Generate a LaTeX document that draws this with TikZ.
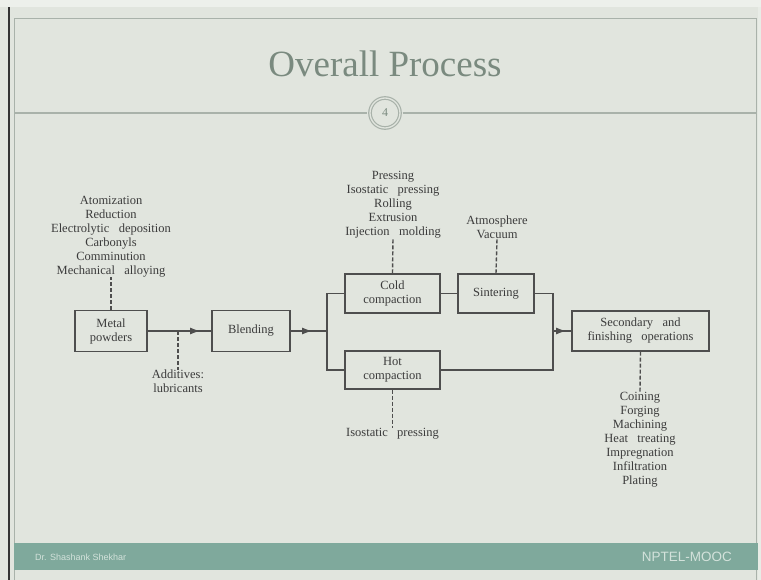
\documentclass[tikz,border=0pt]{standalone}
\usepackage{fontspec}
\setmainfont[WordSpace=3]{Liberation Serif}
\newfontfamily\titlefont{Liberation Serif}
\newfontfamily\footfont{Liberation Sans}
\usetikzlibrary{arrows.meta}
\definecolor{bgc}{HTML}{E1E5DE}
\definecolor{topc}{HTML}{EDF0EB}
\definecolor{framec}{HTML}{A9B2AA}
\definecolor{titlec}{HTML}{7A8A7F}
\definecolor{footc}{HTML}{7FA99C}
\definecolor{foottxt}{HTML}{D3E2DB}
\definecolor{inkc}{HTML}{3C3C3C}
\definecolor{linec}{HTML}{4E4E4E}
\tikzset{
  box/.style={draw=linec, line width=1.1pt, rectangle, inner sep=0pt, align=center,
    text=inkc, font=\fontsize{12.5}{14}\selectfont},
  lst/.style={inner sep=0pt, align=center, text=inkc, font=\fontsize{12.5}{14}\selectfont},
  conn/.style={draw=linec, line width=1.1pt},
  arr/.style={draw=linec, line width=1.1pt, -{Latex[length=10pt,width=7pt]}},
  dsh/.style={draw=linec, line width=1.4pt, dash pattern=on 4pt off 2pt}
}
\begin{document}
\begin{tikzpicture}[x=1pt,y=-1pt]
\useasboundingbox (0,0) rectangle (761,580);
% background
\fill[bgc] (0,0) rectangle (761,580);
\fill[topc] (0,0) rectangle (761,7);
\fill[black!80] (8,7) rectangle (10,580);
\fill[topc!60!bgc] (758,7) rectangle (761,580);
\draw[framec, line width=1pt] (14,580) -- (14,19) -- (756,19) -- (756,580);
% title
\node (title) at (385,64) {\titlefont\fontsize{37}{40}\selectfont\color{titlec}Overall Process};
% page circle
\node[circle, draw=framec, line width=1.2pt, minimum size=30pt, double=bgc, double distance=1.3pt,
  inner sep=0pt, text=titlec, font=\titlefont\fontsize{12}{12}\selectfont] (pg) at (385,113) {4};
\coordinate (hl) at (14,113);
\coordinate (hr) at (756,113);
\draw[framec, line width=1.2pt] (hl) -- ([xshift=-2pt]pg.west);
\draw[framec, line width=1.2pt] ([xshift=2pt]pg.east) -- (hr);
% footer
\fill[footc] (14,543) rectangle (758,570);
\node[anchor=west, inner sep=0pt, text=foottxt, font=\footfont\fontsize{9}{10}\selectfont] (author) at (35,557) {Dr. Shashank Shekhar};
\node[anchor=east, inner sep=0pt, text=foottxt, font=\footfont\fontsize{13.5}{15}\selectfont] (mooc) at (732,557) {NPTEL-MOOC};
% boxes
\node[box, minimum width=72pt, minimum height=41pt] (mp) at (111,331) {Metal\\powders};
\node[box, minimum width=78pt, minimum height=41pt] (bl) at (251,331) {Blending};
\node[box, minimum width=95pt, minimum height=39pt] (cc) at (392.5,293.5) {Cold\\compaction};
\node[box, minimum width=76pt, minimum height=39pt] (si) at (496,293.5) {Sintering};
\node[box, minimum width=95pt, minimum height=38pt] (hc) at (392.5,370) {Hot\\compaction};
\node[box, minimum width=137pt, minimum height=40pt] (so) at (640.5,331) {Secondary and\\finishing operations};
% lists
\node[lst, anchor=south] (mpl) at (111,277) {Atomization\\Reduction\\Electrolytic deposition\\Carbonyls\\Comminution\\Mechanical alloying};
\node[lst, anchor=south] (ccl) at (393,238) {Pressing\\Isostatic pressing\\Rolling\\Extrusion\\Injection molding};
\node[lst, anchor=south] (sil) at (497,239) {Atmosphere\\Vacuum};
\node[lst, anchor=north] (hcl) at (392.5,428) {Isostatic pressing};
\node[lst, anchor=north] (sol) at (640,392) {Coining\\Forging\\Machining\\Heat treating\\Impregnation\\Infiltration\\Plating};
\node[lst, anchor=north] (adl) at (178,370) {Additives:\\lubricants};
% junctions and arrow tips
\coordinate (ad) at (178,331);
\coordinate (j1) at (327,331);
\coordinate (j2) at (553,331);
\coordinate (t1) at (200,331);
\coordinate (t2) at (312,331);
\coordinate (t3) at (566,331);
% connectors
\draw[conn] (mp.east) -- (bl.west);
\draw[arr] (mp.east) -- (t1);
\draw[conn] (bl.east) -- (j1);
\draw[arr] (bl.east) -- (t2);
\draw[conn] (j1) |- (cc.west);
\draw[conn] (j1) |- (hc.west);
\draw[conn] (cc.east) -- (si.west);
\draw[conn] (si.east) -| (j2);
\draw[conn] (hc.east) -| (j2);
\draw[conn] (j2) -- (so.west);
\draw[arr] (j2) -- (t3);
% dashed
\draw[dsh] (mp.north) -- (mpl.south);
\draw[dsh] (ad) -- (adl.north);
\draw[dsh] (cc.north) -- (ccl.south);
\draw[dsh] (si.north) -- (sil.south);
\draw[dsh] (hc.south) -- (hcl.north);
\draw[dsh] (so.south) -- (sol.north);
\end{tikzpicture}
\end{document}
